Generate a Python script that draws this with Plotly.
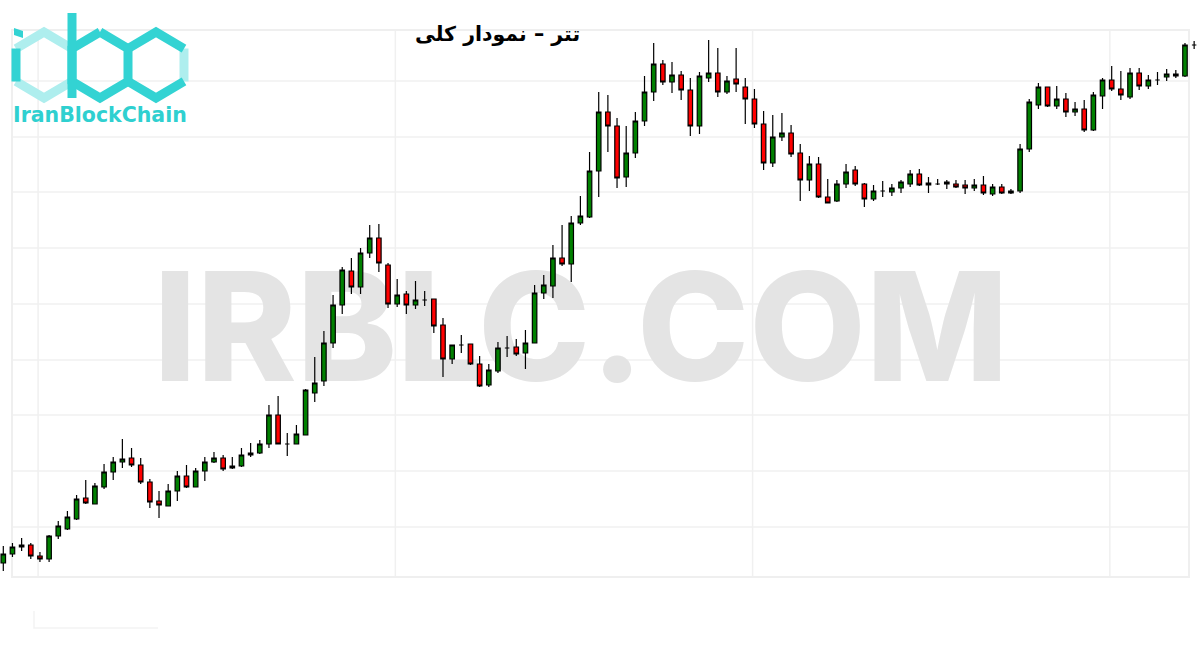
import plotly.graph_objects as go

opens = [37,46,53,55,44,41,64,71,81,102,
         96,113,128,138,142,135,118,99,94,109,
         124,113,129,138,142,132,134,145,147,156,
         185,156,156,165,207,219,257,295,329,313,
         347,362,335,296,306,295,300,301,275,241,
         255,256,236,215,229,252,253,247,257,307,
         314,342,336,377,383,429,488,474,423,447,
         479,508,536,518,525,510,474,522,527,508,
         521,513,501,476,437,463,467,447,420,436,
         403,399,416,430,416,401,409,408,412,416,
         426,415,416,418,416,415,412,415,406,413,
         407,409,451,495,513,494,501,488,491,470,
         504,520,511,503,527,514,520,523,526,524,
         555]
closes = [46,53,55,44,41,64,74,83,101,97,
          114,128,138,141,135,118,98,95,109,124,
          113,129,138,142,131,134,145,147,156,185,
          156,156,166,210,217,257,295,330,313,347,
          362,337,296,305,295,300,300,274,241,255,
          255,236,214,230,252,252,246,257,307,315,
          342,336,377,384,429,488,474,422,447,479,
          508,536,518,525,510,474,524,527,508,519,
          516,501,476,437,463,467,446,420,436,403,
          397,416,428,416,401,409,409,412,418,426,
          415,417,416,416,413,412,415,407,413,407,
          409,451,498,513,494,501,488,491,470,505,
          520,511,505,527,514,520,520,526,524,555,
          555]
highs = [54,57,62,57,48,65,79,89,105,120,
         117,136,143,161,152,142,121,109,116,129,
         135,132,143,148,145,143,152,157,160,195,
         204,167,175,211,243,269,305,333,342,352,
         375,376,337,321,309,319,309,301,282,255,
         265,256,244,236,258,264,261,270,315,325,
         355,375,384,404,448,508,505,482,474,488,
         524,557,540,538,529,522,528,560,552,524,
         552,522,511,489,485,487,475,456,444,443,
         421,420,436,434,417,415,419,416,420,430,
         431,423,421,420,420,420,421,424,416,416,
         411,456,501,517,513,514,507,498,500,508,
         522,534,529,532,532,525,528,531,530,557,
         559]
lows = [29,43,49,41,38,38,61,70,80,96,
        96,111,120,132,133,116,92,82,94,99,
        112,113,119,137,129,131,133,143,146,152,
        156,144,156,165,198,214,252,286,306,306,
        342,328,292,293,286,291,294,267,223,236,
        247,235,213,213,227,243,244,231,257,301,
        302,334,318,375,382,403,448,412,413,442,
        474,499,515,507,500,464,466,518,503,506,
        508,476,472,430,433,459,443,399,409,402,
        397,398,412,414,393,399,403,404,407,413,
        414,407,415,411,412,406,409,405,404,406,
        406,407,448,491,493,491,483,484,468,469,
        491,509,500,501,510,511,515,519,522,523,
        551]
periods = list(range(len(opens)))

grid_values = [73, 129, 185, 240, 296, 352, 408, 463, 519]
grid_periods = [3.8, 42.8, 81.8, 120.8]

title_text = "تتر – نمودار کلی"
watermark_text = "IRBLC.COM"
logo_text = "IranBlockChain"

W, H = 1200, 650
def px(x):
    return x / W
def py(y):
    return 1 - y / H

fig = go.Figure(go.Candlestick(
    x=periods, open=opens, high=highs, low=lows, close=closes,
    increasing=dict(fillcolor="#008000", line=dict(color="#000000", width=1.2)),
    decreasing=dict(fillcolor="#ff0000", line=dict(color="#000000", width=1.2)),
    whiskerwidth=0, hoverinfo="skip", showlegend=False,
))

DARK = "#33d3d3"
LIGHT = "#aeeeee"
GRID = "#f0f0f0"

def path(points, close=False):
    s = "M " + " L ".join(f"{px(x):.5f},{py(y):.5f}" for x, y in points)
    return s + (" Z" if close else "")

shapes = []
# gridlines limited to the frame
for v in grid_values:
    shapes.append(dict(type="line", xref="paper", yref="y", layer="below",
                       x0=px(12), x1=px(1189), y0=v, y1=v, line=dict(color=GRID, width=1.5)))
for p in grid_periods:
    shapes.append(dict(type="line", xref="x", yref="paper", layer="below",
                       x0=p, x1=p, y0=py(577), y1=py(30), line=dict(color=GRID, width=1.5)))
# watermark (below candles)
shapes.append(dict(type="rect", xref="paper", yref="paper", layer="below",
                   x0=px(100), x1=px(1062), y0=py(396), y1=py(246),
                   line=dict(width=0), fillcolor="rgba(0,0,0,0)",
                   label=dict(text=watermark_text, textposition="middle center",
                              font=dict(family="Inter", size=151, color="#e4e4e4", weight=800))))
# faint frame
shapes.append(dict(type="rect", xref="paper", yref="paper", layer="below",
                   x0=px(12), x1=px(1189), y0=py(577), y1=py(30),
                   line=dict(color="#efefef", width=2)))
shapes.append(dict(type="path", xref="paper", yref="paper", layer="below",
                   path=path([(34, 611), (34, 628), (158, 628)]),
                   line=dict(color="#f3f3f3", width=1.5)))

# logo hexagons
def hexpts(cx, cy=65, hw=28, hh=33):
    return {"T": (cx, cy - hh), "UR": (cx + hw, cy - hh / 2), "LR": (cx + hw, cy + hh / 2),
            "B": (cx, cy + hh), "LL": (cx - hw, cy + hh / 2), "UL": (cx - hw, cy - hh / 2)}
hi, hb, hc = hexpts(44), hexpts(100), hexpts(156)
lw = 9
def seg(pts, color):
    shapes.append(dict(type="path", xref="paper", yref="paper", path=path(pts),
                       line=dict(color=color, width=lw)))
seg([hi["UL"], hi["T"], hi["UR"]], LIGHT)
seg([hi["LR"], hi["B"], hi["LL"]], LIGHT)
seg([hc["UR"], hc["LR"]], LIGHT)
seg([hi["UL"], hi["LL"]], DARK)
seg([hb["T"], hb["UR"], hb["LR"], hb["B"], hb["LL"], hb["UL"], hb["T"]], DARK)
seg([hc["UR"], hc["T"], hc["UL"]], DARK)
seg([hc["LL"], hc["B"], hc["LR"]], DARK)
seg([(72, 13), (72, 98)], DARK)
shapes.append(dict(type="path", xref="paper", yref="paper",
                   path=path([(14, 28), (23, 31), (23, 38), (14, 35)], close=True),
                   fillcolor=DARK, line=dict(width=0)))

annotations = [
    dict(text="<b>" + title_text + "</b>", xref="paper", yref="paper", x=px(497), y=py(34),
         showarrow=False, font=dict(family="DejaVu Sans", size=20.5, color="#000000"),
         xanchor="center", yanchor="middle"),
    dict(text="<b>" + logo_text + "</b>", xref="paper", yref="paper", x=px(100), y=py(115),
         showarrow=False, font=dict(family="DejaVu Sans", size=20.5, color="#2fd0d0"),
         xanchor="center", yanchor="middle"),
]

fig.update_layout(
    width=W, height=H, margin=dict(l=0, r=0, t=0, b=0),
    paper_bgcolor="#ffffff", plot_bgcolor="#ffffff",
    shapes=shapes, annotations=annotations,
    xaxis=dict(range=[-0.36, 130.64], rangeslider=dict(visible=False), showticklabels=False,
               showgrid=False, zeroline=False, showline=False, fixedrange=True),
    yaxis=dict(range=[-50, 600], showticklabels=False, showgrid=False,
               zeroline=False, showline=False, fixedrange=True),
)

fig.write_html("out.html", config={"displayModeBar": False},
               post_script="document.body.style.margin='0';")
